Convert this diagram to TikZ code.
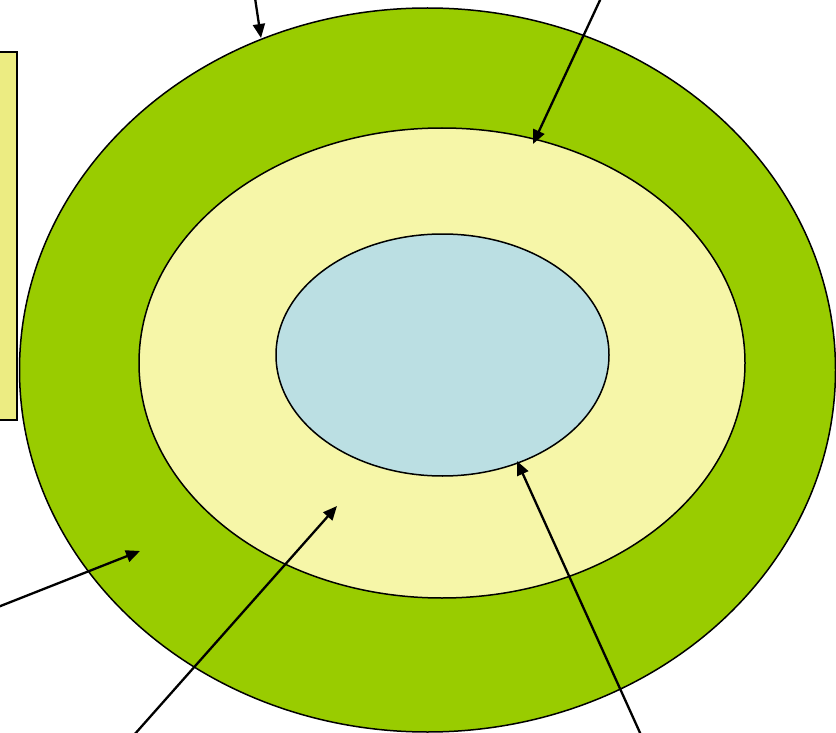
\documentclass[tikz,border=0pt]{standalone}
\usetikzlibrary{arrows.meta}
\definecolor{ringgreen}{RGB}{153,204,0}
\definecolor{ringyellow}{RGB}{246,246,168}
\definecolor{coreblue}{RGB}{187,223,227}
\definecolor{boxyellow}{RGB}{236,236,130}
\tikzset{
  ring/.style={draw=black, line width=1.5pt},
  pointer/.style={draw=black, line width=2.3pt, -{Triangle[length=14pt,width=12pt]}}
}
\begin{document}
\begin{tikzpicture}[x=1pt,y=-1pt]
\useasboundingbox (0,0) rectangle (836,733);
\clip (0,0) rectangle (836,733);
% left box
\draw[ring, fill=boxyellow] (-20,52) rectangle (17,420);
% rings
\draw[ring, fill=ringgreen] (427.5,370) ellipse [x radius=408, y radius=362];
\draw[ring, fill=ringyellow] (442,363) ellipse [x radius=303, y radius=235];
\draw[ring, fill=coreblue] (442.5,355) ellipse [x radius=166.5, y radius=121];
% pointer ends
\coordinate (s1) at (255,-2);   \coordinate (e1) at (261,38);
\coordinate (s2) at (601,-2);   \coordinate (e2) at (533,144);
\coordinate (s3) at (-2,607);   \coordinate (e3) at (140,551);
\coordinate (s4) at (134,735);  \coordinate (e4) at (337,506);
\coordinate (s5) at (641,735);  \coordinate (e5) at (517,461);
\draw[pointer] (s1) -- (e1);
\draw[pointer] (s2) -- (e2);
\draw[pointer] (s3) -- (e3);
\draw[pointer] (s4) -- (e4);
\draw[pointer] (s5) -- (e5);
\end{tikzpicture}
\end{document}
